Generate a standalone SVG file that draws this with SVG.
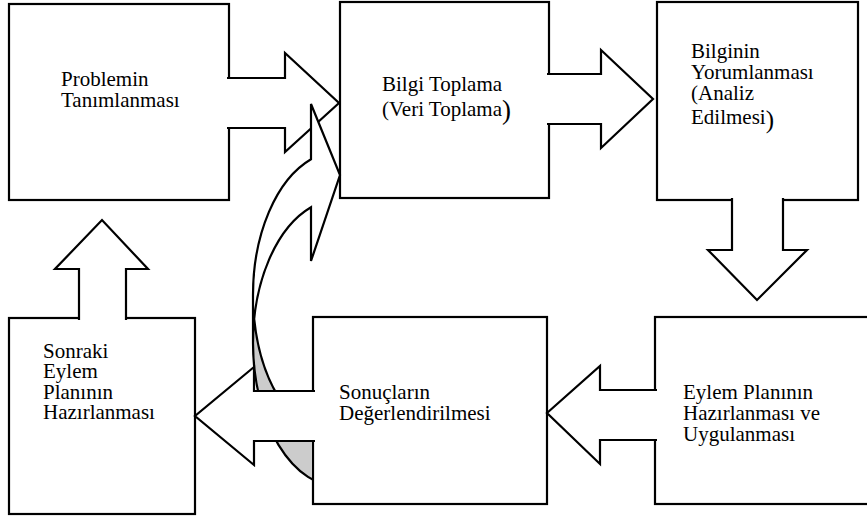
<svg xmlns="http://www.w3.org/2000/svg" width="867" height="520" viewBox="0 0 867 520">
<style>
.box{fill:#fff;stroke:#000;stroke-width:2.2;stroke-linejoin:miter}
.arr{fill:#fff;stroke:#000;stroke-width:2.2;stroke-linejoin:miter}
</style>
<defs>
<clipPath id="c5"><path d="M0 0H867V316H312V520H0Z"/></clipPath>
</defs>
<rect width="867" height="520" fill="#fff"/>
<g font-family="Liberation Serif, Times New Roman, Tinos, DejaVu Serif, serif" font-size="21" fill="#000">
<g id="n1">
<rect class="box" x="9" y="4" width="220" height="196"/>
<text x="61" y="86">Problemin</text>
<text x="61" y="107">Tanımlanması</text>
</g>
<g id="n2">
<rect class="box" x="340" y="2" width="209" height="196"/>
<text x="382" y="91">Bilgi Toplama</text>
<text x="382" y="116">(Veri Toplama<tspan font-size="27" dy="3">)</tspan></text>
</g>
<g id="n3">
<rect class="box" x="657" y="2" width="201" height="198"/>
<text x="691" y="58">Bilginin</text>
<text x="691" y="79">Yorumlanması</text>
<text x="691" y="100">(Analiz</text>
<text x="691" y="124">Edilmesi<tspan font-size="25" dy="4">)</tspan></text>
</g>
<g id="n6">
<rect class="box" x="655" y="317" width="220" height="187"/>
<text x="683" y="399">Eylem Planının</text>
<text x="683" y="420">Hazırlanması ve</text>
<text x="683" y="440.5">Uygulanması</text>
</g>
<g id="n5">
<rect class="box" x="313" y="317" width="234" height="187"/>
<text x="339" y="399">Sonuçların</text>
<text x="339" y="420">Değerlendirilmesi</text>
</g>
<g id="n4">
<rect class="box" x="9" y="318" width="186" height="196"/>
<text x="43" y="358">Sonraki</text>
<text x="43" y="378">Eylem</text>
<text x="43" y="398.5">Planının</text>
<text x="43" y="419">Hazırlanması</text>
</g>
</g>
<g id="connectors">
<path class="arr" d="M227 78L285 78L285 53L339 103L285 152L285 128L227 128"/>
<g id="curved" clip-path="url(#c5)">
<path d="M311 159.2A87 144 0 0 0 253 295L253 343A87 144 0 0 1 311 207.2L311 261L340 175L311 104Z" fill="#fff"/>
<path d="M253 295A87 144 0 0 0 340 439L340 487A87 144 0 0 1 253 343Z" fill="#cccccc"/>
<path d="M253 343A87 144 0 0 1 311 207.2L311 261L340 175L311 104L311 159.2A87 144 0 0 0 253 295L253 343A87 144 0 0 0 340 487L340 439A87 144 0 0 1 254.2 319" fill="none" stroke="#000" stroke-width="2.2"/>
</g>
<path class="arr" d="M547 74L601 74L601 50L653 99L601 148L601 124L547 124"/>
<path class="arr" d="M732 198L732 250L708 250L757 300L807 250L783 250L783 198"/>
<path class="arr" d="M657 390L600 390L600 366L547 413L600 464L600 440L657 440"/>
<path class="arr" d="M315 391L254 391L254 367L195 416L254 465L254 441L315 441"/>
<path class="arr" d="M79 320L79 269L55 269L102 220L148 269L126 269L126 320"/>
</g>
</svg>
